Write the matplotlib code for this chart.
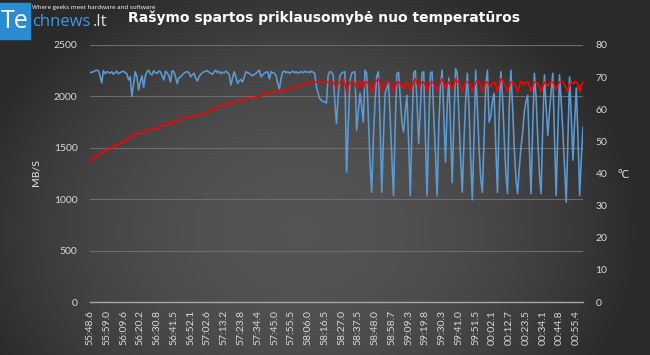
import numpy as np
import matplotlib
matplotlib.use('Agg')
import matplotlib.pyplot as plt
from matplotlib.patches import Rectangle

# ---------------- data ----------------
time_labels = ["55:48.6", "55:59.0", "56:09.6", "56:20.2", "56:30.8", "56:41.5",
               "56:52.1", "57:02.6", "57:13.2", "57:23.8", "57:34.4", "57:45.0",
               "57:55.5", "58:06.0", "58:16.5", "58:27.0", "58:37.5", "58:48.0",
               "58:58.7", "59:09.3", "59:19.8", "59:30.3", "59:41.0", "59:51.5",
               "00:02.1", "00:12.7", "00:23.5", "00:34.1", "00:44.8", "00:55.4"]
label_every = 10

write_speed = [
    2230, 2235, 2240, 2250, 2255, 2250, 2200, 2130, 2250, 2220,
    2240, 2235, 2225, 2240, 2215, 2230, 2245, 2220, 2230, 2240,
    2245, 2230, 2220, 2160, 2190, 2000, 2120, 2240, 2190, 2060,
    2140, 2200, 2090, 2200, 2240, 2255, 2220, 2210, 2250, 2230,
    2225, 2245, 2240, 2200, 2160, 2245, 2230, 2200, 2140, 2250,
    2240, 2190, 2125, 2180, 2190, 2210, 2225, 2235, 2240, 2230,
    2190, 2210, 2225, 2180, 2150, 2190, 2215, 2230, 2240, 2245,
    2250, 2235, 2225, 2215, 2240, 2255, 2230, 2245, 2220, 2235,
    2230, 2245, 2230, 2215, 2110, 2180, 2240, 2190, 2125, 2150,
    2165, 2140, 2190, 2240, 2230, 2225, 2210, 2200, 2215, 2225,
    2240, 2255, 2190, 2210, 2225, 2235, 2240, 2170, 2240, 2230,
    2225, 2200, 2120, 2075, 2180, 2240, 2245, 2230, 2240, 2225,
    2235, 2245, 2230, 2240, 2225, 2235, 2240, 2230, 2245, 2235,
    2240, 2230, 2245, 2235, 2225, 2100, 2030, 1980, 1960, 1950,
    1945, 1935, 2200, 2240, 2235, 2210, 1950, 1735, 2000, 2200,
    2225, 2235, 2240, 1263, 1700, 2150, 2225, 2235, 2240, 1670,
    1850, 2030, 1900, 1750, 2255, 2220, 1800, 1350, 1067, 1600,
    1950, 2200, 2240, 1700, 1067, 1600, 2030, 2080, 2125, 1800,
    1400, 1035, 1700, 2220, 2235, 2000, 1750, 1653, 1850, 2010,
    1560, 1035, 1700, 2225, 2250, 1950, 1540, 1880, 2225, 2240,
    1600, 1035, 1700, 2225, 2240, 1800, 1450, 1035, 1700, 2100,
    2255, 1800, 1360, 1900, 2180, 1700, 1160, 1750, 2270, 2230,
    1800, 1400, 1067, 1550, 1950, 2225, 1900, 1400, 993, 1600,
    2255, 1900, 1500, 1200, 1067, 1600, 2100, 2255, 1750, 1800,
    1950, 2030, 1500, 1067, 1800, 2240, 2000, 1600, 1250, 1055,
    1900, 2255, 1900, 1500, 1200, 1055, 1300, 1500, 1650, 1850,
    1950, 2010, 1500, 1055, 1700, 2225, 2000, 1600, 1250, 1055,
    1700, 2210, 1900, 1620, 1850, 2050, 2225, 1600, 1035, 1650,
    2210, 1950, 1650, 1300, 970, 1600, 2190, 1800, 1380, 1750,
    2080, 1600, 1035, 1400, 1700,
]

temperature = [
    44, 44, 45, 45, 45.5, 45.5, 46, 46, 47, 47,
    47.5, 47.5, 48, 48, 48, 49, 49, 49, 49.5, 49.5,
    49.5, 50.5, 50.5, 50.5, 51.5, 51.5, 51.5, 52.5, 52.5, 52.5,
    52.5, 52.5, 52.5, 53.5, 53.5, 53.5, 53.5, 54, 54, 54,
    54, 54, 55, 55, 55, 55, 55.5, 55.5, 55.5, 55.5,
    55.5, 56.5, 56.5, 56.5, 56.5, 57.5, 57.5, 57.5, 57.5, 57.5,
    57.5, 57.5, 58, 58, 58, 58, 58, 59, 59, 59,
    59, 59, 60, 60, 60, 60, 61, 61, 61, 61,
    61, 61, 62, 62, 62, 62, 62, 62.5, 62.5, 62.5,
    62.5, 62.5, 62.5, 63.5, 63.5, 63.5, 63.5, 63.5, 63.5, 64,
    64, 64, 64, 65, 65, 65, 65, 65, 65, 65.5,
    65.5, 65.5, 65.5, 65.5, 65.5, 66, 66, 66, 66, 66,
    66.5, 66.5, 66.5, 66.5, 67.5, 67.5, 67.5, 67.5, 68, 68,
    68, 68.5, 68.5, 68.5, 68.5, 68.5, 68.5, 68.5, 68.5, 68.5,
    68.5, 68.5, 68.5, 68.5, 68.5, 68.5, 67.5, 66.5, 68, 68.5,
    69, 69.5, 68, 65.5, 67, 68.5, 68.5, 68.5, 68, 66.5,
    68.5, 68.5, 68, 66.5, 68.5, 68.5, 68, 67, 65.5, 66.5,
    68.5, 69, 69.5, 68, 65.5, 67, 68.5, 68.5, 68.5, 68,
    67, 65.5, 67, 68.5, 68.5, 68, 67.5, 66.5, 68, 68.5,
    67.5, 65.5, 67, 68.5, 69.5, 68, 66.5, 68, 68.5, 68.5,
    67.5, 65.5, 67, 68.5, 68.5, 68, 67, 65.5, 67, 68.5,
    69.5, 68, 66.5, 68, 68.5, 67.5, 66, 67.5, 69.5, 68.5,
    68.5, 67.5, 65.5, 67, 68.5, 68.5, 68, 67, 65.5, 67,
    68.5, 69, 68.5, 67.5, 65.5, 67, 68.5, 68.5, 67.5, 67,
    68, 68.5, 67.5, 65.5, 67.5, 69.5, 69, 68, 67, 65.5,
    67, 68.5, 68.5, 68, 67, 65.5, 67, 68.5, 68.5, 67.5,
    68.5, 68.5, 67.5, 65.5, 67, 68.5, 68.5, 68, 67, 65.5,
    67, 68.5, 68, 67, 68, 68.5, 68.5, 67.5, 66, 67.5,
    68.5, 68.5, 68.5, 67.5, 66.5, 65.5, 67.5, 68.5, 68, 68.5,
    68.5, 67.5, 65.5, 67.5, 68.5,
]

title = "Rašymo spartos priklausomybė nuo temperatūros"
left_label = "MB/S"
right_label = "°C"

# ---------------- figure ----------------
W, H = 650, 355
fig = plt.figure(figsize=(W / 100, H / 100), dpi=100)

# background gradient
bg = fig.add_axes([0, 0, 1, 1], zorder=-10)
yy, xx = np.mgrid[0:H, 0:W]
nx = (xx - 300) / 340.0
ny = (yy - 230) / 270.0
r2 = nx ** 2 + ny ** 2
v = 0.165 + 0.165 * np.clip(1 - r2, 0, 1)
img = np.dstack([v, v, v])
bg.imshow(img, extent=[0, 1, 0, 1], aspect='auto', interpolation='bilinear')
bg.set_axis_off()

tick_color = '#d9d9d9'
tick_font = 'Lato'

ax = fig.add_axes([90 / W, 1 - 302 / H, 493 / W, 257 / H])
ax.patch.set_alpha(0)
n = len(write_speed)
x_blue = np.arange(len(write_speed))
x_red = np.arange(len(temperature))
ax.plot(x_blue, write_speed, color='#5b9bd5', lw=1.15, zorder=3)
ax.set_xlim(0, n - 1)
ax.set_ylim(0, 2500)
ax.set_yticks(np.arange(0, 2501, 500))
ax.yaxis.grid(True, color='#6c6c6c', lw=0.8)
ax.set_axisbelow(True)
for s in ['top', 'left', 'right']:
    ax.spines[s].set_visible(False)
ax.spines['bottom'].set_color('#a6a6a6')
ax.spines['bottom'].set_linewidth(1.0)
ticks = np.arange(len(time_labels)) * label_every
ax.set_xticks(ticks)
ax.set_xticklabels(time_labels, rotation=90, fontsize=7.5, color=tick_color,
                   family=tick_font)
ax.tick_params(axis='x', length=0, pad=6)
ax.tick_params(axis='y', length=0, pad=9, labelsize=7.5, labelcolor=tick_color)
for lb in ax.get_yticklabels():
    lb.set_family(tick_font)

ax2 = ax.twinx()
ax2.plot(x_red, temperature, color='#ff0000', lw=1.15, zorder=4)
ax2.set_ylim(0, 80)
ax2.set_yticks(np.arange(0, 81, 10))
for s in ['top', 'left', 'right', 'bottom']:
    ax2.spines[s].set_visible(False)
ax2.tick_params(axis='y', length=0, pad=9, labelsize=7.5, labelcolor=tick_color)
for lb in ax2.get_yticklabels():
    lb.set_family(tick_font)
ax2.set_xlim(0, n - 1)

# axis titles
fig.text(36 / W, 1 - 173 / H, left_label, rotation=90, ha='center', va='center',
         fontsize=7.5, color='#e6e6e6', family=tick_font)
fig.text(624 / W, 1 - 174 / H, right_label, ha='center', va='center',
         fontsize=8, color='#e6e6e6', family=tick_font)

# title
fig.text(324 / W, 1 - 18 / H, title, ha='center', va='center', fontsize=10,
         fontweight='bold', color='white', family='DejaVu Sans')

# logo
fig.patches.append(Rectangle((0, 1 - 39 / H), 30 / W, 36 / H,
                             transform=fig.transFigure, color='#2b8bd3', zorder=1))
fig.text(15 / W, 1 - 21 / H, "Te", ha='center', va='center', fontsize=18,
         color='white', family='Open Sans', zorder=2)
t_ch = fig.text(32 / W, 1 - 22 / H, "chnews", ha='left', va='center', fontsize=12,
                color='#3d9be0', family='Open Sans')
fig.canvas.draw()
bb = t_ch.get_window_extent(renderer=fig.canvas.get_renderer())
fig.text((bb.x1 + 2) / W, 1 - 22 / H, ".lt", ha='left', va='center', fontsize=12,
         color='#dddddd', family='Open Sans')
fig.text(32 / W, 1 - 7 / H, "Where geeks meet hardware and software", ha='left',
         va='center', fontsize=4.5, color='white', family='Open Sans')

fig.savefig('out.png', dpi=100)
